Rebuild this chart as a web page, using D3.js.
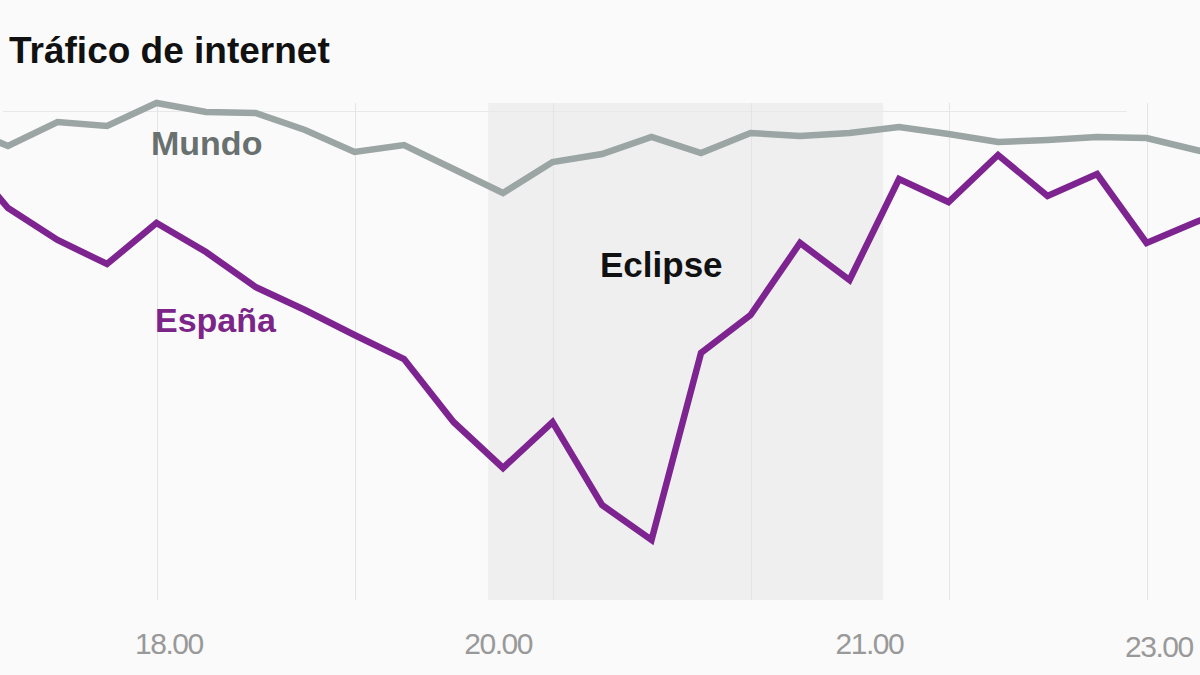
<!DOCTYPE html>
<html>
<head>
<meta charset="utf-8">
<script src="https://cdn.jsdelivr.net/npm/d3@7"></script>
<style>
  body { margin: 0; background: #fafafa; }
  svg { display: block; }
</style>
</head>
<body>
<svg id="chart"></svg>
<script>
// point index (one reading every step); -1 and 25 are the points cut off at the edges
const steps = d3.range(-1, 26);

const mundo = [95, 90.8, 95.6, 94.8, 99.4, 97.6, 97.4, 94, 89.6, 91, 86.2, 81.4, 87.6,
  89.2, 92.6, 89.4, 93.4, 92.8, 93.4, 94.6, 93.2, 91.6, 92, 92.6, 92.4, 90, 87.8];

const espana = [90, 78.4, 72, 67.2, 75.4, 69.6, 62.6, 58, 53, 48.2, 35.6, 26.4, 35.6,
  19, 12, 49.4, 57, 71.4, 64, 84.2, 79.6, 89, 80.8, 85.2, 71.4, 75.6, 79.4];

const gridSteps = [3, 7, 11, 15, 19, 23];
const tickLabels = ['18.00', '20.00', '21.00', '23.00'];
const tickSteps = [3.25, 9.9, 17.4, 23.25];
const eclipse = [9.7, 17.68];

const width = 1200, height = 675;

const svg = d3.select('#chart')
  .attr('width', width)
  .attr('height', height)
  .style('font-family', '"Liberation Sans", Arial, sans-serif');

svg.append('rect')
  .attr('width', width).attr('height', height)
  .attr('fill', '#fafafa');

const x = d3.scaleLinear()
  .domain([-0.1616, 24.08])
  .range([0, width]);

const y = d3.scaleLinear()
  .domain([0, 100])
  .range([600, 100]);

const plotTop = 103, plotBottom = 600;

// eclipse band
svg.append('rect')
  .attr('x', x(eclipse[0]))
  .attr('y', plotTop)
  .attr('width', x(eclipse[1]) - x(eclipse[0]))
  .attr('height', plotBottom - plotTop)
  .attr('fill', '#efefef');

// top rule
svg.append('line')
  .attr('x1', 3).attr('x2', x(22.6))
  .attr('y1', 111.5).attr('y2', 111.5)
  .attr('stroke', '#e8e8e8')
  .attr('stroke-width', 1);

// vertical grid
svg.append('g')
  .selectAll('line')
  .data(gridSteps)
  .join('line')
  .attr('x1', d => Math.round(x(d)) + 0.5)
  .attr('x2', d => Math.round(x(d)) + 0.5)
  .attr('y1', plotTop)
  .attr('y2', plotBottom)
  .attr('stroke', '#e4e4e4')
  .attr('stroke-width', 1);

// x labels
svg.append('g')
  .selectAll('text')
  .data(tickLabels)
  .join('text')
  .attr('x', (d, i) => x(tickSteps[i]))
  .attr('y', (d, i) => i === 3 ? 657 : 654)
  .attr('text-anchor', 'middle')
  .attr('fill', '#999')
  .style('font-size', '30px')
  .style('letter-spacing', '-1.5px')
  .text(d => d);

const line = d3.line()
  .x((d, i) => x(steps[i]))
  .y(d => y(d));

svg.append('path')
  .datum(mundo)
  .attr('fill', 'none')
  .attr('stroke', '#9ba5a4')
  .attr('stroke-width', 6.5)
  .attr('d', line);

svg.append('path')
  .datum(espana)
  .attr('fill', 'none')
  .attr('stroke', '#7d2490')
  .attr('stroke-width', 6.5)
  .attr('d', line);

// labels
svg.append('text')
  .attr('x', 151).attr('y', 155)
  .attr('fill', '#687070')
  .style('font-size', '34px').style('font-weight', 700)
  .text('Mundo');

svg.append('text')
  .attr('x', 155).attr('y', 332)
  .attr('fill', '#7b2589')
  .style('font-size', '34px').style('font-weight', 700)
  .text('España');

svg.append('text')
  .attr('x', 600).attr('y', 277)
  .attr('fill', '#111')
  .style('font-size', '35px').style('font-weight', 700)
  .text('Eclipse');

svg.append('text')
  .attr('x', 9).attr('y', 63)
  .attr('fill', '#111')
  .style('font-size', '37px').style('font-weight', 700)
  .text('Tráfico de internet');
</script>
</body>
</html>
